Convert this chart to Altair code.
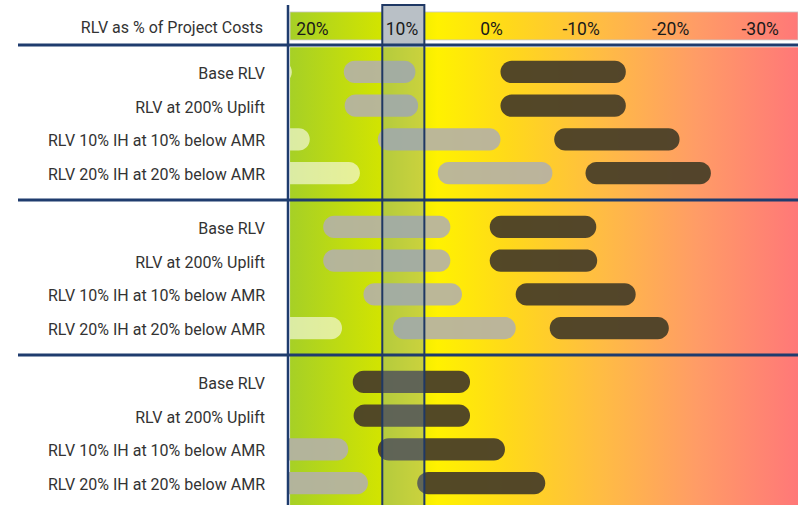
import altair as alt
import pandas as pd

# ---------------- data ----------------
row_labels = ["Base RLV", "RLV at 200% Uplift",
              "RLV 10% IH at 10% below AMR", "RLV 20% IH at 20% below AMR"]
n_groups = 3
tick_values = [20, 10, 0, -10, -20, -30]
tick_labels = ["20%", "10%", "0%", "-10%", "-20%", "-30%"]
header_title = "RLV as % of Project Costs"

# bars: group index, row index, tier, from (left, higher %), to (right, lower %)
bar_group = [0, 0, 0, 0, 0, 0, 0, 0, 0, 0, 0,
             1, 1, 1, 1, 1, 1, 1, 1, 1,
             2, 2, 2, 2, 2, 2]
bar_row   = [0, 0, 0, 1, 1, 2, 2, 2, 3, 3, 3,
             0, 0, 1, 1, 2, 2, 3, 3, 3,
             0, 1, 2, 2, 3, 3]
bar_tier  = ["light", "grey", "dark", "grey", "dark", "light", "grey", "dark", "light", "grey", "dark",
             "grey", "dark", "grey", "dark", "grey", "dark", "light", "grey", "dark",
             "dark", "dark", "grey", "dark", "grey", "dark"]
bar_from  = [30, 16.5, -1.0, 16.4, -1.0, 30, 12.7, -7.0, 30, 6.0, -10.5,
             18.8, 0.2, 18.8, 0.2, 14.3, -2.7, 30, 11.0, -6.5,
             15.5, 15.4, 30, 12.7, 30, 8.3]
bar_to    = [22.3, 8.5, -15.0, 8.2, -15.0, 20.3, -1.0, -21.0, 14.7, -6.8, -24.5,
             4.6, -11.7, 4.6, -11.8, 3.3, -16.1, 16.7, -2.7, -19.8,
             2.4, 2.4, 16.0, -1.5, 13.8, -6.0]

band_hi, band_lo = 12.2, 7.5   # highlighted 10% band

# ---------------- layout helpers ----------------
GAP = 0.6
X_DOMAIN = [-34.23, 22.73]
Y_DOMAIN = [-1.335, 13.65]


def row_y(g, i):
    return g * (4 + GAP) + GAP / 2 + 0.5 + i


bars = pd.DataFrame({"group": bar_group, "row": bar_row, "tier": bar_tier,
                     "from": bar_from, "to": bar_to})
bars["yc"] = [row_y(g, i) for g, i in zip(bars["group"], bars["row"])]
bars["y1"] = bars["yc"] - 0.33
bars["y2"] = bars["yc"] + 0.33

labels = pd.DataFrame([{"label": lab, "y": row_y(g, i)}
                       for g in range(n_groups) for i, lab in enumerate(row_labels)])
seps = pd.DataFrame({"y": [g * (4 + GAP) for g in range(n_groups)]})
ticks = pd.DataFrame({"v": tick_values, "t": tick_labels})

xs = alt.Scale(domain=X_DOMAIN, reverse=True, nice=False, zero=False)
ys = alt.Scale(domain=Y_DOMAIN, reverse=True, nice=False, zero=False)

grad = alt.Gradient(
    gradient="linear",
    stops=[
        alt.GradientStop(color="#a6d026", offset=0.0),
        alt.GradientStop(color="#d2e400", offset=0.18),
        alt.GradientStop(color="#fff200", offset=0.29),
        alt.GradientStop(color="#ffd91a", offset=0.43),
        alt.GradientStop(color="#ffbb45", offset=0.62),
        alt.GradientStop(color="#ff9c66", offset=0.80),
        alt.GradientStop(color="#ff7878", offset=1.0),
    ],
    x1=0, x2=1, y1=0, y2=0,
)

one = pd.DataFrame({"a": [0]})

body_bg = alt.Chart(one).mark_rect(color=grad).encode(
    x=alt.datum(22.5, scale=xs, axis=None), x2=alt.datum(X_DOMAIN[0]),
    y=alt.datum(0.07, scale=ys, axis=None), y2=alt.datum(Y_DOMAIN[1]),
)
head_bg = alt.Chart(one).mark_rect(color=grad, stroke="#c8c8c8", strokeWidth=0.8).encode(
    x=alt.datum(22.5, scale=xs, axis=None), x2=alt.datum(X_DOMAIN[0]),
    y=alt.datum(-0.98, scale=ys, axis=None), y2=alt.datum(-0.15),
)
head_band = alt.Chart(one).mark_rect(color="#b9c0c6").encode(
    x=alt.datum(band_hi, scale=xs, axis=None), x2=alt.datum(band_lo),
    y=alt.datum(-1.19, scale=ys, axis=None), y2=alt.datum(0.0),
)

tier_colors = {"light": ("#fbfbf0", 0.62), "grey": ("#b4b0a8", 0.9), "dark": ("#4a3f28", 0.95)}
bar_layers = []
for tier in ["light", "grey", "dark"]:
    c, o = tier_colors[tier]
    bar_layers.append(
        alt.Chart(bars[bars["tier"] == tier]).mark_rect(
            color=c, opacity=o, cornerRadius=11, clip=True
        ).encode(
            x=alt.X("from:Q", scale=xs, axis=None), x2="to:Q",
            y=alt.Y("y1:Q", scale=ys, axis=None), y2="y2:Q",
        )
    )

band_overlay = alt.Chart(one).mark_rect(color="#7c9cb4", opacity=0.34).encode(
    x=alt.datum(band_hi, scale=xs, axis=None), x2=alt.datum(band_lo),
    y=alt.datum(0.0, scale=ys, axis=None), y2=alt.datum(Y_DOMAIN[1]),
)
band_outline = alt.Chart(one).mark_rect(fill=None, stroke="#1f3864", strokeWidth=2).encode(
    x=alt.datum(band_hi, scale=xs, axis=None), x2=alt.datum(band_lo),
    y=alt.datum(-1.19, scale=ys, axis=None), y2=alt.datum(Y_DOMAIN[1] + 0.2),
)

sep_lines = alt.Chart(seps).mark_rule(color="#1f3c6e", strokeWidth=3).encode(
    x=alt.value(-270), x2=alt.value(520),
    y=alt.Y("y:Q", scale=ys, axis=None),
)
vline = alt.Chart(one).mark_rule(color="#1f3c6e", strokeWidth=2.5).encode(
    x=alt.datum(X_DOMAIN[1], scale=xs, axis=None),
    y=alt.datum(-1.19, scale=ys, axis=None), y2=alt.datum(Y_DOMAIN[1]),
)

row_text = alt.Chart(labels).mark_text(
    align="right", baseline="middle", font="Roboto", fontSize=16, color="#333333", dy=2
).encode(
    x=alt.value(-23), y=alt.Y("y:Q", scale=ys, axis=None), text="label:N",
)
tick_text = alt.Chart(ticks).mark_text(
    align="center", baseline="middle", font="Roboto", fontSize=17.5, color="#1a1a1a"
).encode(
    x=alt.X("v:Q", scale=xs, axis=None), y=alt.datum(-0.44, scale=ys, axis=None), text="t:N",
)
head_text = alt.Chart(one).mark_text(
    align="right", baseline="middle", font="Roboto", fontSize=16, color="#333333",
    text=header_title,
).encode(
    x=alt.value(-25), y=alt.datum(-0.5, scale=ys, axis=None),
)

chart = alt.layer(
    body_bg, head_bg, head_band, *bar_layers, band_overlay,
    sep_lines, vline, band_outline, row_text, tick_text, head_text,
).properties(
    width=510, height=505,
    padding={"left": 288, "top": 0, "right": 0, "bottom": 0},
    autosize=alt.AutoSizeParams(type="none"),
).configure_view(stroke=None)

chart.save("out.html", embed_options={"renderer": "svg", "actions": False})
